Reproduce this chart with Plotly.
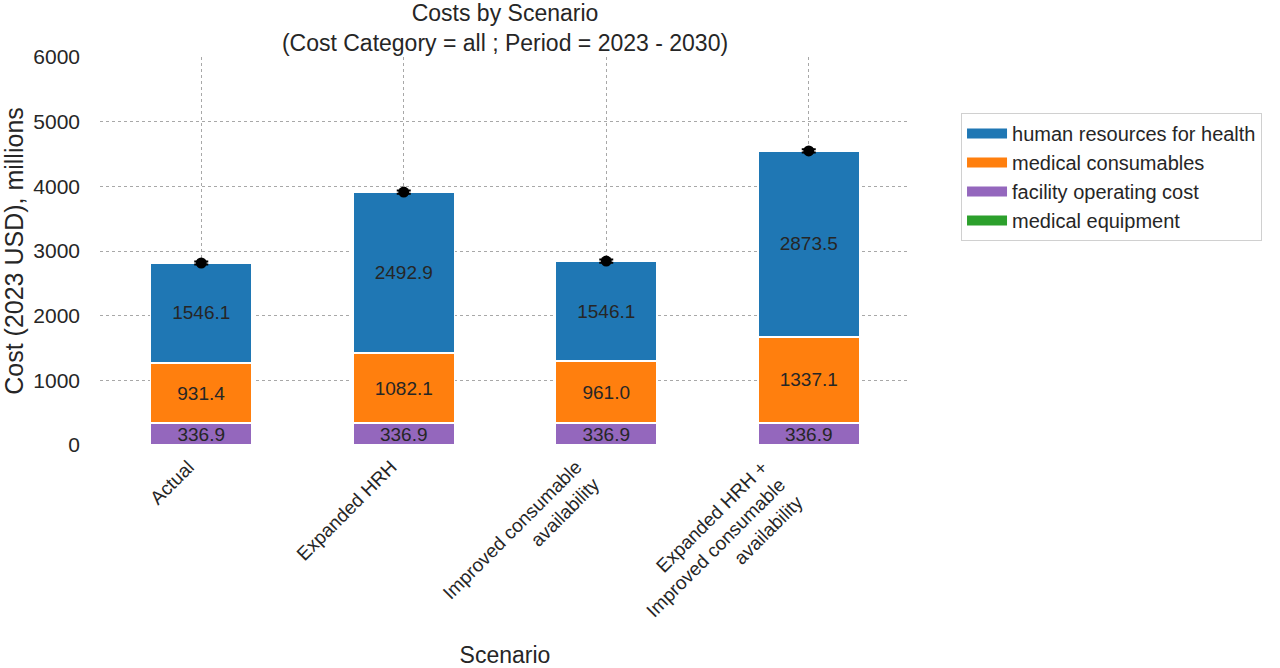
import plotly.graph_objects as go

# scenario costs, millions of 2023 USD
scenarios = ["Actual", "Expanded HRH", "Improved consumable<br>availability",
             "Expanded HRH +<br>Improved consumable<br>availability"]
medical_equipment = [0.0, 0.0, 0.0, 0.0]
facility_operating = [336.9, 336.9, 336.9, 336.9]
medical_consumables = [931.4, 1082.1, 961.0, 1337.1]
human_resources = [1546.1, 2492.9, 1546.1, 2873.5]
total_err = [25, 25, 25, 25]

BLUE, ORANGE, PURPLE, GREEN = "#1f77b4", "#ff7f0e", "#9467bd", "#2ca02c"
FONT = "Liberation Sans, Arial, sans-serif"
TXT = "#262626"
GRID = "#a8a8a8"

# plot box in pixels (left, right, top, bottom)
L, R, T, B = 100, 910, 57, 445
W, H = 1280, 668

x = list(range(len(scenarios)))
fig = go.Figure()

stack = [
    ("medical equipment", medical_equipment, GREEN, False),
    ("facility operating cost", facility_operating, PURPLE, True),
    ("medical consumables", medical_consumables, ORANGE, True),
    ("human resources for health", human_resources, BLUE, True),
]
for name, vals, col, lab in stack:
    fig.add_trace(go.Bar(
        x=x, y=vals, name=name, width=0.5, showlegend=False,
        marker=dict(color=col, line=dict(color="white", width=1.5)),
        texttemplate="%{y:.1f}" if lab else None,
        textposition="inside" if lab else "none",
        insidetextanchor="middle", textangle=0,
        textfont=dict(color=TXT, size=19, family=FONT),
        hoverinfo="name+y",
    ))

totals = [a + b + c + d for a, b, c, d in zip(medical_equipment, facility_operating,
                                              medical_consumables, human_resources)]
fig.add_trace(go.Scatter(
    x=x, y=totals, mode="markers", showlegend=False,
    marker=dict(color="black", size=11),
    error_y=dict(type="data", array=total_err, color="black", thickness=2, width=7),
))

# legend entries drawn as wide colour patches
for name, _, col, _ in reversed(stack):
    fig.add_trace(go.Scatter(x=[None], y=[None], mode="lines", name=name,
                             line=dict(color=col, width=12)))

# rotated category labels, right-aligned like the original
annotations = []
for i, lab in zip(x, scenarios):
    annotations.append(dict(
        x=i, y=0, xref="x", yref="y", text=lab, showarrow=False,
        textangle=-45, xanchor="right", yanchor="top", align="right",
        xshift=0, yshift=-9, font=dict(size=19, color=TXT, family=FONT),
    ))

fig.update_layout(
    width=W, height=H,
    barmode="stack",
    plot_bgcolor="white", paper_bgcolor="white",
    font=dict(family=FONT, color=TXT, size=19),
    margin=dict(l=L, r=W - R, t=T, b=H - B, autoexpand=False),
    title=dict(text="Costs by Scenario<br>(Cost Category = all ; Period = 2023 - 2030)",
               x=(L + R) / 2 / W, xanchor="center", y=0.968, yanchor="top",
               pad=dict(t=0), font=dict(size=23, color=TXT)),
    uniformtext=dict(minsize=19, mode="show"),
    showlegend=True,
    legend=dict(x=1.063, y=(B - 113) / (B - T), xanchor="left", yanchor="top",
                traceorder="normal", bordercolor="#d0d0d0", borderwidth=1,
                font=dict(size=20, color=TXT), itemwidth=40),
    annotations=annotations,
)
fig.update_xaxes(
    range=[-0.5, 3.5], tickvals=x, showticklabels=False,
    showgrid=True, gridcolor=GRID, griddash="dot", gridwidth=1,
    showline=False, zeroline=False, ticks="", automargin=False,
    title=dict(text="Scenario", font=dict(size=23, color=TXT), standoff=202),
)
fig.update_yaxes(
    range=[0, 6000], dtick=1000,
    showgrid=True, gridcolor=GRID, griddash="dot", gridwidth=1,
    showline=False, zeroline=False, ticks="", automargin=False,
    ticklabelstandoff=19,
    tickfont=dict(size=21, color=TXT),
    title=dict(text="Cost (2023 USD), millions", font=dict(size=25, color=TXT), standoff=4),
)

# drop the page margin so the figure sits at the window corner
fig.write_html("out.html", config={"displayModeBar": False},
               post_script="document.body.style.margin='0';")
